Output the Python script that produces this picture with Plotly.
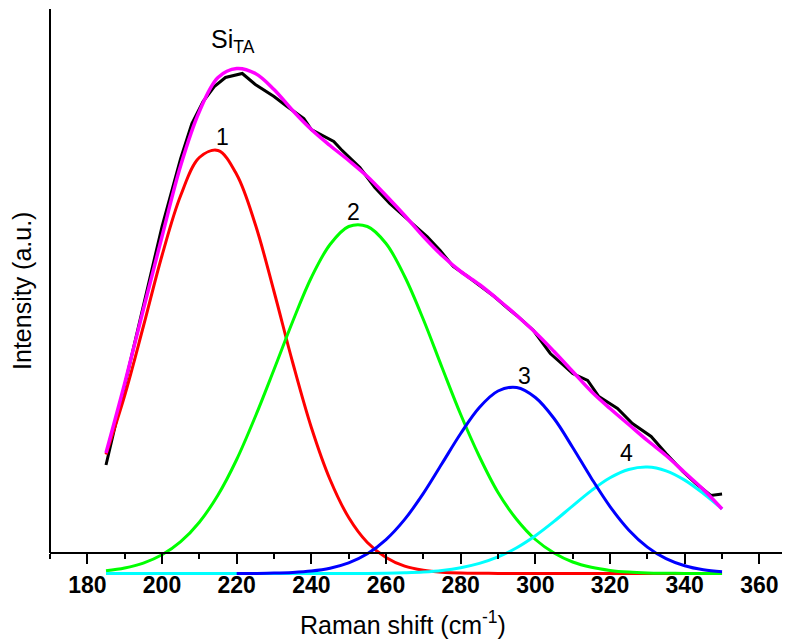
import plotly.graph_objects as go

# ---- data ----
shift_grid = [185, 190, 195, 200, 205, 210, 215, 220, 225, 230, 235, 240, 245, 250,
              255, 260, 265, 270, 275, 280, 285, 290, 295, 300, 305, 310, 315, 320,
              325, 330, 335, 340, 345, 350]

peak1 = [119, 178, 247, 318, 378, 416, 423, 399, 349, 282, 211, 146, 94, 56,
         31, 16, 7.3, 3.2, 1.3, 0.5, 0.2, 0.1, 0, 0, 0, 0, 0, 0,
         0, 0, 0, 0, 0, 0]
peak2 = [2.8, 5.5, 10.4, 18.7, 31.8, 51.3, 78.5, 114, 157, 204, 252, 296, 329, 347,
         347, 330, 297, 254, 206, 159, 117, 81, 54, 34, 20.5, 11.5, 6.2, 3.1,
         1.4, 0.6, 0.3, 0.1, 0, 0]
peak3_shift = [220, 225, 230, 235, 240, 245, 250, 255, 260, 265, 270, 275, 280, 285,
               290, 295, 300, 305, 310, 315, 320, 325, 330, 335, 340, 345, 350]
peak3 = [0, 0.1, 0.4, 1.1, 2.5, 5.3, 10.6, 19.7, 33.9, 54.1, 80.1, 110, 140, 166,
         182.5, 186, 176, 155, 126, 95.3, 66.9, 43.6, 26.4, 14.8, 7.7, 3.7, 1.7]
peak4 = [0, 0, 0, 0, 0, 0, 0, 0, 0, 0, 0, 0, 0, 0.1,
         0.1, 0.3, 0.8, 1.6, 3.1, 5.8, 10.1, 16.6, 25.8, 37.8, 52.1, 67.7, 82.9, 95.7,
         104, 106.5, 102.7, 93.4, 80, 64.6]
fit_sum = [120.5, 190, 264, 337, 408, 462, 496, 505, 500, 484, 463, 444, 428, 413,
           397, 378, 358, 337, 318, 302, 289, 274, 258, 241, 222, 202, 182, 165,
           149, 133, 118, 101, 84, 64.5]

measured_shift = [185, 190, 195, 200, 205, 208, 211, 214, 217, 221.5, 225, 230, 233.5,
                  236, 238, 240, 243, 246, 248, 251, 253, 257, 261, 264, 267, 271,
                  274.5, 278, 281.5, 285, 289, 293, 295, 299.5, 304, 307, 310, 314,
                  317, 322, 326, 331, 335, 339.5, 343, 347, 350]
measured = [108.5, 188, 268, 347, 415, 450, 472, 487, 496, 500, 489, 477, 467,
            460, 455, 444, 438, 432, 424, 413, 406, 386, 370, 360, 350, 337,
            323, 307, 298, 288, 277, 264, 258, 243, 220, 210, 200, 193,
            177, 165, 150, 137, 120, 102, 90, 78, 79.5]

x_ticks = [180, 200, 220, 240, 260, 280, 300, 320, 340, 360]

FONT = "Liberation Sans, Arial, sans-serif"

fig = go.Figure()
fig.add_trace(go.Scatter(x=measured_shift, y=measured, mode="lines",
                         line=dict(color="black", width=3), name="measured"))
fig.add_trace(go.Scatter(x=shift_grid, y=peak1, mode="lines",
                         line=dict(color="#FF0000", width=3, shape="spline"), name="1"))
fig.add_trace(go.Scatter(x=shift_grid, y=peak2, mode="lines",
                         line=dict(color="#00FF00", width=3, shape="spline"), name="2"))
fig.add_trace(go.Scatter(x=shift_grid, y=peak4, mode="lines",
                         line=dict(color="#00FFFF", width=3, shape="spline"), name="4"))
fig.add_trace(go.Scatter(x=peak3_shift, y=peak3, mode="lines",
                         line=dict(color="#0000FF", width=3, shape="spline"), name="3"))
fig.add_trace(go.Scatter(x=shift_grid, y=fit_sum, mode="lines",
                         line=dict(color="#FF00FF", width=3.5, shape="spline"), name="fit"))

Y_LO, Y_HI = -6.5, 564.5
AXIS_Y = 20.5
axis_pos = (AXIS_Y - Y_LO) / (Y_HI - Y_LO)

fig.update_layout(
    width=782, height=632,
    margin=dict(l=42, r=0, t=1, b=60),
    paper_bgcolor="white", plot_bgcolor="white",
    showlegend=False,
    font=dict(family=FONT, color="black"),
    xaxis=dict(
        range=[170, 368.2], anchor="free", position=axis_pos,
        showline=True, linecolor="black", linewidth=2,
        showgrid=False, zeroline=False,
        tickmode="array", tickvals=x_ticks, ticktext=[str(v) for v in x_ticks],
        ticks="outside", ticklen=10, tickwidth=2, tickcolor="black",
        ticklabelstandoff=1,
        tickfont=dict(family=FONT, size=23, color="black", weight="bold"),
        minor=dict(ticks="outside", ticklen=5, tickwidth=2, tickcolor="black",
                   dtick=10, tick0=0, showgrid=False),
    ),
    yaxis=dict(
        range=[Y_LO, Y_HI], showline=False, showgrid=False, zeroline=False,
        showticklabels=False, ticks="",
    ),
    shapes=[dict(type="line", xref="paper", yref="paper", x0=0, x1=0,
                 y0=axis_pos, y1=1, line=dict(color="black", width=2))],
    annotations=[
        dict(text="Raman shift (cm<sup>-1</sup>)", xref="paper", yref="paper",
             x=0.4777, y=-0.0755, xanchor="center", yanchor="middle",
             showarrow=False, font=dict(size=25)),
        dict(text="Intensity (a.u.)", xref="paper", yref="paper",
             x=-0.038, y=0.506, xanchor="center", yanchor="middle",
             textangle=-90, showarrow=False, font=dict(size=25)),
        dict(text="Si<sub>TA</sub>", x=212.5, y=533, xanchor="left", yanchor="middle",
             showarrow=False, font=dict(size=25)),
        dict(text="1", x=216.3, y=437, showarrow=False, font=dict(size=23)),
        dict(text="2", x=251.3, y=362, showarrow=False, font=dict(size=23)),
        dict(text="3", x=297.1, y=198, showarrow=False, font=dict(size=23)),
        dict(text="4", x=324.5, y=121, showarrow=False, font=dict(size=23)),
    ],
)

fig.write_html("out.html")
